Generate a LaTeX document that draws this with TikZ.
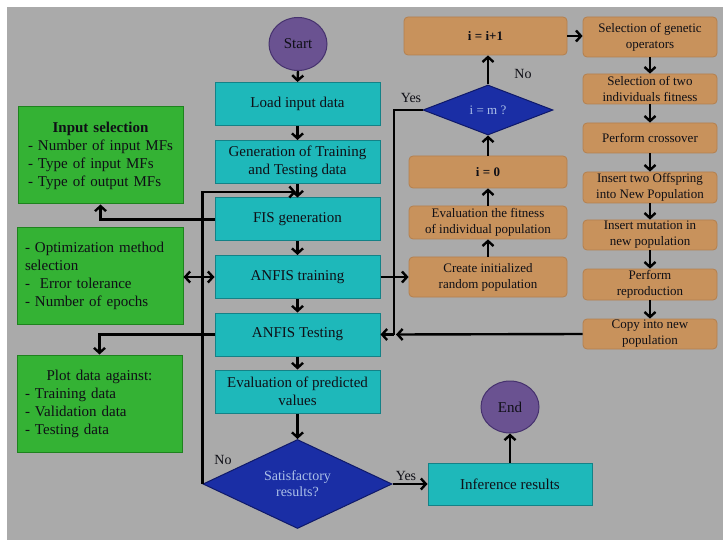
\documentclass[tikz,border=0pt]{standalone}
\usepackage{fontspec}
\setmainfont{Liberation Serif}
\usetikzlibrary{shapes.geometric,arrows.meta}
\definecolor{bgG}{RGB}{170,170,170}
\definecolor{cyanF}{RGB}{30,184,186}
\definecolor{cyanB}{RGB}{20,130,135}
\definecolor{greenF}{RGB}{52,178,52}
\definecolor{greenB}{RGB}{30,130,30}
\definecolor{orangeF}{RGB}{200,146,92}
\definecolor{orangeB}{RGB}{180,128,78}
\definecolor{purpF}{RGB}{106,82,145}
\definecolor{purpB}{RGB}{70,50,110}
\definecolor{diaF}{RGB}{26,46,165}
\definecolor{diaB}{RGB}{15,25,105}
\definecolor{diaT}{RGB}{172,192,232}
\definecolor{txt}{RGB}{15,15,22}
\newcommand\myBig{\fontsize{15}{18}\selectfont}
\newcommand\mySmall{\fontsize{13}{16}\selectfont}
\newcommand\myLab{\fontsize{14}{16}\selectfont}
\begin{document}
\begin{tikzpicture}[x=1pt,y=-1pt,
  cbox/.style={draw=cyanB, fill=cyanF, line width=1pt, minimum width=165pt, minimum height=43pt, inner sep=0pt, align=center, font=\myBig, text=txt},
  gbox/.style={draw=greenB, fill=greenF, line width=1pt, minimum height=97pt, align=left, font=\myBig, text=txt},
  obox/.style={draw=orangeB, fill=orangeF, line width=0.8pt, rounded corners=4pt, inner sep=0pt, align=center, font=\mySmall, text=txt},
  circ/.style={ellipse, draw=purpB, fill=purpF, line width=1pt, minimum width=58pt, minimum height=53pt, inner sep=0pt, font=\myBig, text=txt},
  dia/.style={diamond, draw=diaB, fill=diaF, line width=1pt, inner sep=0pt, shape aspect=2.2, align=center, text=diaT},
  arr/.style={line width=2.4pt, draw=black, -{Straight Barb[length=5pt,width=11pt]}},
  arrB/.style={line width=2.4pt, draw=black, {Straight Barb[length=5pt,width=11pt]}-{Straight Barb[length=5pt,width=11pt]}},
  ln/.style={line width=2.4pt, draw=black},
  lab/.style={font=\myLab, text=txt}
]
\useasboundingbox (0,0) rectangle (723,540);
\fill[white] (0,0) rectangle (723,540);
\fill[bgG] (7,7) rectangle (723,540);

% main column
\node[circ] (start) at (298,44) {Start};
\node[cbox] (load) at (297.5,104) {Load input data};
\node[cbox] (gen) at (297.5,162) {Generation of Training\\and Testing data};
\node[cbox] (fis) at (297.5,219.5) {FIS generation};
\node[cbox] (train) at (297.5,277) {ANFIS training};
\node[cbox] (test) at (297.5,334.5) {ANFIS Testing};
\node[cbox] (eval) at (297.5,391.5) {Evaluation of predicted\\values};
\node[dia, minimum width=189pt, minimum height=89pt, font=\myLab] (sat) at (297.5,484) {Satisfactory\\results?};
\node[cbox, minimum width=164pt, minimum height=42pt] (inf) at (510,484) {Inference results};
\node[circ, minimum height=52pt] (end) at (510,407) {End};

% green boxes
\node[gbox, minimum width=165pt, text width=145pt, inner xsep=10pt] (insel) at (100.5,155.5)
  {\makebox[145pt][c]{\bfseries Input selection}\\- Number of input MFs\\- Type of input MFs\\- Type of output MFs};
\node[gbox, minimum width=166pt, text width=150pt, inner xsep=8pt, minimum height=96pt] (opt) at (100,276)
  {- Optimization method\\selection\\-\ \ Error tolerance\\- Number of epochs};
\node[gbox, minimum width=165pt, text width=149pt, inner xsep=8pt] (plot) at (99.5,403.5)
  {\makebox[149pt][c]{Plot data against:}\\- Training data\\- Validation data\\- Testing data};

% GA left column
\node[obox, minimum width=163pt, minimum height=38pt, font=\bfseries\mySmall] (iinc) at (485.5,36) {i = i+1};
\node[dia, minimum width=130pt, minimum height=50pt, font=\mySmall] (im) at (488,110) {i = m ?};
\node[obox, minimum width=158pt, minimum height=32pt, font=\bfseries\mySmall] (izero) at (488,172) {i = 0};
\node[obox, minimum width=158pt, minimum height=33pt] (evfit) at (488,222.5) {Evaluation the fitness\\of individual population};
\node[obox, minimum width=158pt, minimum height=40pt] (create) at (488,277) {Create initialized\\random population};

% GA right column
\node[obox, minimum width=134pt, minimum height=40pt] (selgen) at (650,37) {Selection of genetic\\operators};
\node[obox, minimum width=134pt, minimum height=30pt] (seltwo) at (650,89) {Selection of two\\individuals fitness};
\node[obox, minimum width=134pt, minimum height=30pt] (cross) at (650,138) {Perform crossover};
\node[obox, minimum width=134pt, minimum height=31pt] (instwo) at (650,187.5) {Insert two Offspring\\into New Population};
\node[obox, minimum width=134pt, minimum height=30pt] (mut) at (650,235) {Insert mutation in\\new population};
\node[obox, minimum width=134pt, minimum height=31pt] (repro) at (650,284.5) {Perform\\reproduction};
\node[obox, minimum width=134pt, minimum height=30pt] (copy) at (650,334) {Copy into new\\population};

% main flow arrows
\draw[arr] (start.south) -- (load.north);
\draw[arr] (load.south) -- (gen.north);
\draw[arr] (gen.south) -- (fis.north);
\draw[arr] (fis.south) -- (train.north);
\draw[arr] (train.south) -- (test.north);
\draw[arr] (test.south) -- (eval.north);
\draw[arr] (eval.south) -- (sat.north);

% No loop
\coordinate (looptop) at (296,192);
\draw[arr] (sat.west) -- (sat.west |- looptop) -- (looptop);
\node[lab] (nolab) at (223,460) {No};

% side connections
\draw[arr] (fis.west) -| (insel.south);
\draw[arrB] (opt.east |- train.west) -- (train.west);
\draw[arr] (test.west) -| (plot.north);

% yes to inference
\draw[arr] (sat.east) -- (inf.west);
\node[lab] (yeslab) at (406,476) {Yes};
\draw[arr] (inf.north) -- (end.south);

% GA left column
\draw[arr] (train.east) -- (create.west);
\draw[arr] (create.north) -- (evfit.south);
\draw[arr] (evfit.north) -- (izero.south);
\draw[arr] (izero.north) -- (im.south);
\draw[arr] (im.north) -- (im.north |- iinc.south);
\node[lab] (nolab2) at (523,74) {No};
\coordinate (yj) at (394,334.5);
\draw[ln] (im.west) -| (yj);
\draw[arr] (yj) -- (test.east);
\node[lab] (yeslab2) at (411,98) {Yes};
\coordinate (cj) at (396,334.5);
\draw[arr] (copy.west) -- (cj);

% GA right column
\draw[arr] (iinc.east) -- (selgen.west |- iinc.east);
\draw[arr] (selgen.south) -- (seltwo.north);
\draw[arr] (seltwo.south) -- (cross.north);
\draw[arr] (cross.south) -- (instwo.north);
\draw[arr] (instwo.south) -- (mut.north);
\draw[arr] (mut.south) -- (repro.north);
\draw[arr] (repro.south) -- (copy.north);
\end{tikzpicture}
\end{document}
